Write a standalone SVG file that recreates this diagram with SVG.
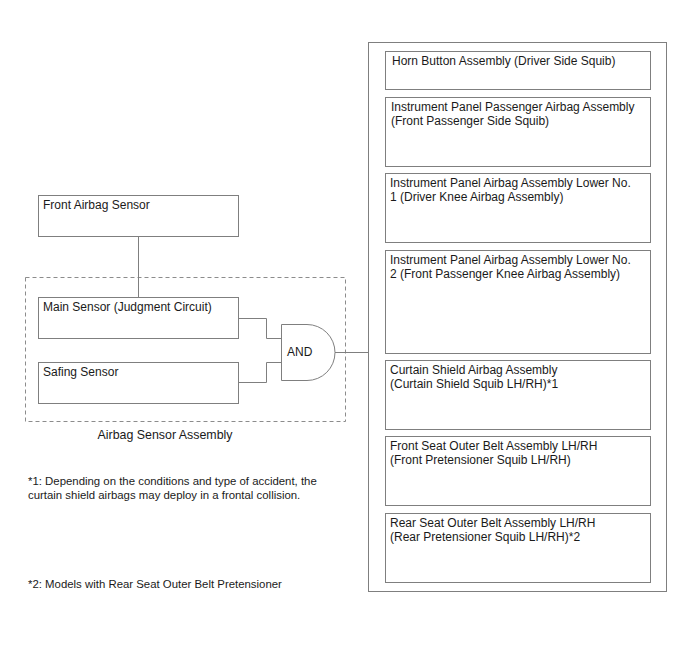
<svg xmlns="http://www.w3.org/2000/svg" width="688" height="658" viewBox="0 0 688 658">
<style>
.box{fill:#fff;stroke:#7f7f7f;stroke-width:1}
.ln{fill:none;stroke:#7f7f7f;stroke-width:1}
.dash{fill:none;stroke:#8c8c8c;stroke-width:1;stroke-dasharray:4,3}
text{font-family:"Liberation Sans",Arial,sans-serif;font-size:12px;fill:#1a1a1a}
.note{font-size:11.4px}
</style>
<rect width="688" height="658" fill="#fff"/>
<g id="airbag-sensor-assembly">
<rect class="dash" x="25.5" y="277.5" width="320" height="144"/>
<text x="165" y="439" text-anchor="middle" style="font-size:12.4px">Airbag Sensor Assembly</text>
</g>
<g id="connectors">
<path class="ln" d="M138.5,236 V297"/>
<path class="ln" d="M238,318.5 H266.5 V338.5 H281"/>
<path class="ln" d="M238,382.5 H266.5 V362.5 H281"/>
<path class="ln" d="M335,352.5 H369"/>
</g>
<g id="front-airbag-sensor">
<rect class="box" x="38.5" y="195.5" width="200" height="41"/>
<text x="43" y="208.5">Front Airbag Sensor</text>
</g>
<g id="main-sensor">
<rect class="box" x="38.5" y="297.5" width="200" height="41"/>
<text x="43" y="310.5">Main Sensor (Judgment Circuit)</text>
</g>
<g id="safing-sensor">
<rect class="box" x="38.5" y="362.5" width="200" height="41"/>
<text x="43" y="375.5">Safing Sensor</text>
</g>
<g id="and-gate">
<path class="box" d="M281.5,324.5 H307 A28,28 0 0 1 307,380.5 H281.5 Z"/>
<text x="287" y="356">AND</text>
</g>
<g id="squib-group">
<rect class="box" x="368.5" y="42.5" width="298" height="549"/>
</g>
<g id="horn-button">
<rect class="box" x="385.5" y="51.5" width="265" height="38"/>
<text x="392" y="65">Horn Button Assembly (Driver Side Squib)</text>
</g>
<g id="ip-passenger">
<rect class="box" x="385.5" y="97.5" width="265" height="69"/>
<text x="391" y="111">Instrument Panel Passenger Airbag Assembly</text>
<text x="391" y="125">(Front Passenger Side Squib)</text>
</g>
<g id="ip-lower-1">
<rect class="box" x="385.5" y="173.5" width="265" height="69"/>
<text x="390" y="187">Instrument Panel Airbag Assembly Lower No.</text>
<text x="390" y="201">1 (Driver Knee Airbag Assembly)</text>
</g>
<g id="ip-lower-2">
<rect class="box" x="385.5" y="250.5" width="265" height="103"/>
<text x="390" y="264">Instrument Panel Airbag Assembly Lower No.</text>
<text x="390" y="278">2 (Front Passenger Knee Airbag Assembly)</text>
</g>
<g id="curtain-shield">
<rect class="box" x="385.5" y="360.5" width="265" height="69"/>
<text x="390" y="374">Curtain Shield Airbag Assembly</text>
<text x="390" y="388">(Curtain Shield Squib LH/RH)*1</text>
</g>
<g id="front-seat-belt">
<rect class="box" x="385.5" y="436.5" width="265" height="69"/>
<text x="390" y="450">Front Seat Outer Belt Assembly LH/RH</text>
<text x="390" y="464">(Front Pretensioner Squib LH/RH)</text>
</g>
<g id="rear-seat-belt">
<rect class="box" x="385.5" y="513.5" width="265" height="69"/>
<text x="390" y="527">Rear Seat Outer Belt Assembly LH/RH</text>
<text x="390" y="541">(Rear Pretensioner Squib LH/RH)*2</text>
</g>
<g id="notes">
<text class="note" x="28" y="485">*1: Depending on the conditions and type of accident, the</text>
<text class="note" x="28" y="499">curtain shield airbags may deploy in a frontal collision.</text>
<text class="note" x="28" y="588">*2: Models with Rear Seat Outer Belt Pretensioner</text>
</g>
</svg>
